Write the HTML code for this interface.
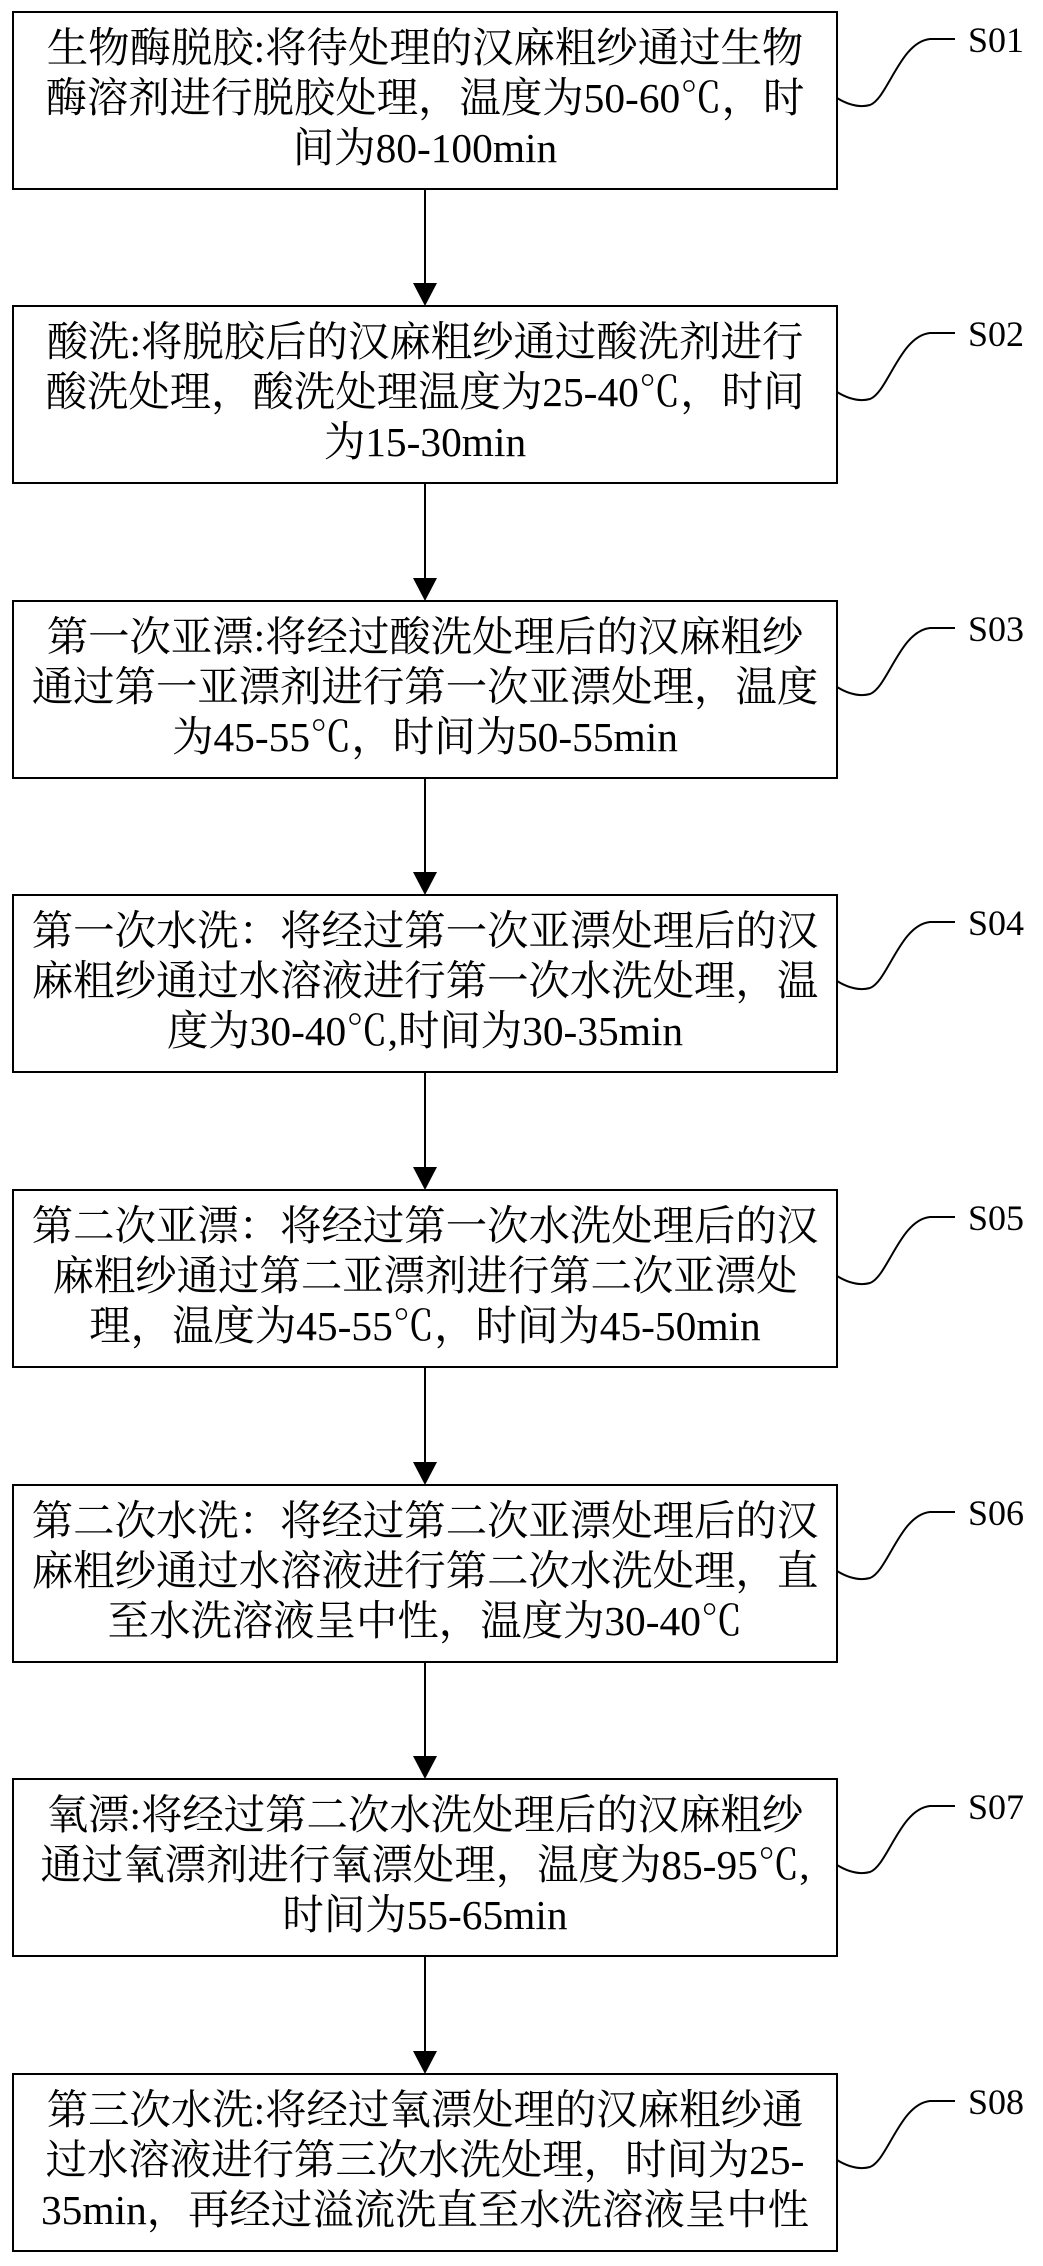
<!DOCTYPE html>
<html><head><meta charset="utf-8"><style>
html,body{margin:0;padding:0;background:#fff;}
svg{display:block;}
text{font-family:"Liberation Serif","Noto Serif CJK SC",serif;fill:#000;}
.t{font-size:41.4px;}
.l{font-size:36px;}
</style></head><body>
<svg width="1043" height="2266" viewBox="0 0 1043 2266" xmlns="http://www.w3.org/2000/svg">
<defs>
<g id="curve"><path d="M837,86 Q855,97 870,93 C888,86 900,30 930,27 L955,27" fill="none" stroke="#000" stroke-width="2"/></g>
</defs>
<g stroke="#000" stroke-width="2" fill="none">
<rect x="13" y="12" width="824" height="177"/>
<rect x="13" y="306" width="824" height="177"/>
<rect x="13" y="601" width="824" height="177"/>
<rect x="13" y="895" width="824" height="177"/>
<rect x="13" y="1190" width="824" height="177"/>
<rect x="13" y="1485" width="824" height="177"/>
<rect x="13" y="1779" width="824" height="177"/>
<rect x="13" y="2074" width="824" height="177"/>
<line x1="425" y1="189" x2="425" y2="285"/>
<line x1="425" y1="483" x2="425" y2="580"/>
<line x1="425" y1="778" x2="425" y2="874"/>
<line x1="425" y1="1072" x2="425" y2="1169"/>
<line x1="425" y1="1367" x2="425" y2="1464"/>
<line x1="425" y1="1662" x2="425" y2="1758"/>
<line x1="425" y1="1956" x2="425" y2="2053"/>
</g>
<g fill="#000">
<polygon points="413,283 437,283 425,306"/>
<polygon points="413,578 437,578 425,601"/>
<polygon points="413,872 437,872 425,895"/>
<polygon points="413,1167 437,1167 425,1190"/>
<polygon points="413,1462 437,1462 425,1485"/>
<polygon points="413,1756 437,1756 425,1779"/>
<polygon points="413,2051 437,2051 425,2074"/>
</g>
<use href="#curve" y="12"/><use href="#curve" y="306"/><use href="#curve" y="601"/><use href="#curve" y="895"/>
<use href="#curve" y="1190"/><use href="#curve" y="1485"/><use href="#curve" y="1779"/><use href="#curve" y="2074"/>
<g class="l">
<text x="968" y="52">S01</text>
<text x="968" y="346">S02</text>
<text x="968" y="641">S03</text>
<text x="968" y="935">S04</text>
<text x="968" y="1230">S05</text>
<text x="968" y="1525">S06</text>
<text x="968" y="1819">S07</text>
<text x="968" y="2114">S08</text>
</g>
<g class="t" text-anchor="middle">
<text x="425" y="62">生物酶脱胶:将待处理的汉麻粗纱通过生物</text>
<text x="425" y="112">酶溶剂进行脱胶处理，温度为50-60℃，时</text>
<text x="425" y="162">间为80-100min</text>

<text x="425" y="356">酸洗:将脱胶后的汉麻粗纱通过酸洗剂进行</text>
<text x="425" y="406">酸洗处理，酸洗处理温度为25-40℃，时间</text>
<text x="425" y="456">为15-30min</text>

<text x="425" y="651">第一次亚漂:将经过酸洗处理后的汉麻粗纱</text>
<text x="425" y="701">通过第一亚漂剂进行第一次亚漂处理，温度</text>
<text x="425" y="751">为45-55℃，时间为50-55min</text>

<text x="425" y="945">第一次水洗：将经过第一次亚漂处理后的汉</text>
<text x="425" y="995">麻粗纱通过水溶液进行第一次水洗处理，温</text>
<text x="425" y="1045">度为30-40℃,时间为30-35min</text>

<text x="425" y="1240">第二次亚漂：将经过第一次水洗处理后的汉</text>
<text x="425" y="1290">麻粗纱通过第二亚漂剂进行第二次亚漂处</text>
<text x="425" y="1340">理，温度为45-55℃，时间为45-50min</text>

<text x="425" y="1535">第二次水洗：将经过第二次亚漂处理后的汉</text>
<text x="425" y="1585">麻粗纱通过水溶液进行第二次水洗处理，直</text>
<text x="425" y="1635">至水洗溶液呈中性，温度为30-40℃</text>

<text x="425" y="1829">氧漂:将经过第二次水洗处理后的汉麻粗纱</text>
<text x="425" y="1879">通过氧漂剂进行氧漂处理，温度为85-95℃,</text>
<text x="425" y="1929">时间为55-65min</text>

<text x="425" y="2124">第三次水洗:将经过氧漂处理的汉麻粗纱通</text>
<text x="425" y="2174">过水溶液进行第三次水洗处理，时间为25-</text>
<text x="425" y="2224">35min，再经过溢流洗直至水洗溶液呈中性</text>
</g>
</svg>
</body></html>
